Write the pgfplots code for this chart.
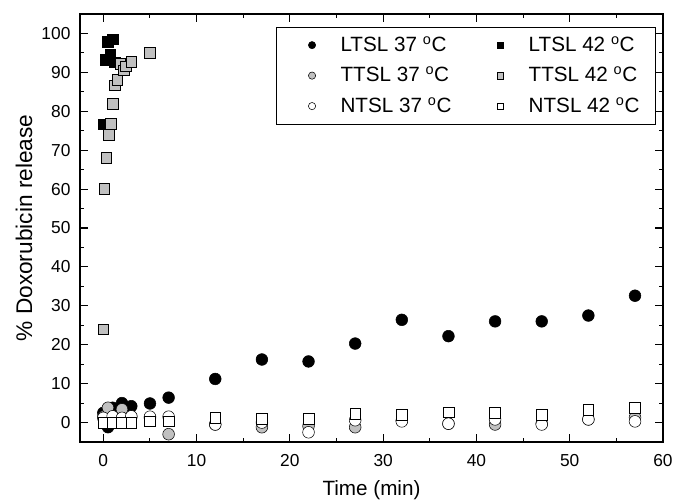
\documentclass[border=0pt]{standalone}
\usepackage{fontspec}
\setmainfont{Liberation Sans}
\usepackage{pgfplots}
\pgfplotsset{compat=1.18}
\definecolor{ltgray}{RGB}{192,192,192}
\begin{document}
\fontsize{12}{14}\selectfont
\begin{tikzpicture}
\begin{axis}[
  scale only axis,
  width=437.25pt, height=321pt,
  xmin=-2.5, xmax=60, ymin=-5, ymax=105,
  xtick={0,10,...,60}, ytick={0,10,...,100},
  minor x tick num=1, minor y tick num=1,
  tick align=inside,
  major tick length=6pt, minor tick length=3pt,
  axis line style={line width=1pt},
  every tick/.style={line width=0.8pt, black},
  xticklabel pos=lower, yticklabel pos=left,
  /pgf/number format/assume math mode=true,
  ticklabel style={font=\fontsize{13}{15}\selectfont},
  xticklabel style={yshift=-5pt},
  yticklabel style={xshift=-3pt},
  xlabel={Time (min)},
  ylabel={\% Doxorubicin release},
  xlabel style={font=\fontsize{15.5}{17}\selectfont, at={(axis description cs:0.5,0)}, anchor=center, yshift=-36pt},
  ylabel style={font=\fontsize{17}{19}\selectfont, at={(axis description cs:0,0.5)}, anchor=center, yshift=42pt},
  legend columns=3, transpose legend,
  legend style={at={(rel axis cs:0.988,0.970)}, anchor=north east,
    draw=black, line width=0.6pt, font=\fontsize{15.5}{17}\selectfont,
    inner xsep=10pt, inner ysep=5pt,
    /tikz/every even column/.append style={column sep=17.5pt},
    row sep=6pt},
  legend cell align=left,
  legend image code/.code={\path[draw=none, fill=none] (0cm,-0.1cm) rectangle (1.28cm,0.1cm);
    \draw[mark repeat=2,mark phase=2] plot coordinates {(0cm,0cm) (0.6cm,0cm) (1.28cm,0cm)};},
  legend image post style={/tikz/every mark/.append style={scale=0.62}},
]
% LTSL 37
\addplot[only marks, mark=*, mark size=4.4pt, mark options={draw=black, fill=black, line width=0.4pt}] coordinates {
(0,2.5) (0.5,-1.2) (1,3.8) (2,5.0) (3,4.2) (5,4.9) (7,6.4) (12,11.2) (17,16.2) (22,15.7) (27,20.3) (32,26.4) (37,22.2) (42,26.0) (47,26.0) (52,27.5) (57,32.6)};
\addlegendentry{LTSL 37 \textsuperscript{o}C}
% TTSL 37
\addplot[only marks, mark=*, mark size=4.4pt, mark options={draw=black, fill=ltgray, line width=0.4pt}] coordinates {
(0,1.5) (0.5,3.8) (1,1.5) (2,3.4) (3,1.5) (5,1.2) (7,-3.0) (12,-0.5) (17,-1.2) (22,-0.9) (27,-1.2) (32,0.5) (37,-0.3) (42,-0.5) (47,-0.3) (52,0.8) (57,1.3)};
\addlegendentry{TTSL 37 \textsuperscript{o}C}
% NTSL 37
\addplot[only marks, mark=*, mark size=4.4pt, mark options={draw=black, fill=white, line width=0.4pt}] coordinates {
(0,1.2) (1,1.6) (2,1.2) (3,1.6) (5,1.5) (7,1.5) (12,-0.5) (17,0.0) (22,-2.5) (27,0.6) (32,0.3) (37,-0.3) (42,0.8) (47,-0.5) (52,0.8) (57,0.3)};
\addlegendentry{NTSL 37 \textsuperscript{o}C}
% LTSL 42
\addplot[only marks, mark=square*, mark size=4.0pt, mark options={draw=black, fill=black, line width=0.4pt}] coordinates {
(0,76.7) (0.25,93.2) (0.5,97.8) (0.75,94.5) (1,98.5) (1.25,92.6)};
\addlegendentry{LTSL 42 \textsuperscript{o}C}
% TTSL 42
\addplot[only marks, mark=square*, mark size=4.0pt, mark options={draw=black, fill=ltgray, line width=0.4pt}] coordinates {
(0,24.0) (0.1,60.0) (0.3,68.0) (0.6,74.0) (0.8,76.8) (1.0,82.0) (1.2,86.7) (1.5,88.1) (1.8,92.2) (2.2,90.5) (2.4,91.6) (3,92.8) (5,95.0)};
\addlegendentry{TTSL 42 \textsuperscript{o}C}
% NTSL 42
\addplot[only marks, mark=square*, mark size=4.0pt, mark options={draw=black, fill=white, line width=0.4pt}] coordinates {
(0,0.0) (1,0.0) (2,0.0) (3,0.0) (5,0.3) (7,0.3) (12,1.2) (17,0.9) (22,0.9) (27,2.3) (32,2.0) (37,2.6) (42,2.5) (47,2.0) (52,3.2) (57,3.8)};
\addlegendentry{NTSL 42 \textsuperscript{o}C}
\end{axis}
\pgfresetboundingbox
\path[use as bounding box] ([shift={(-60pt,-45pt)}]current axis.south west) rectangle ([shift={(9.75pt,10.5pt)}]current axis.north east);
\end{tikzpicture}
\end{document}
